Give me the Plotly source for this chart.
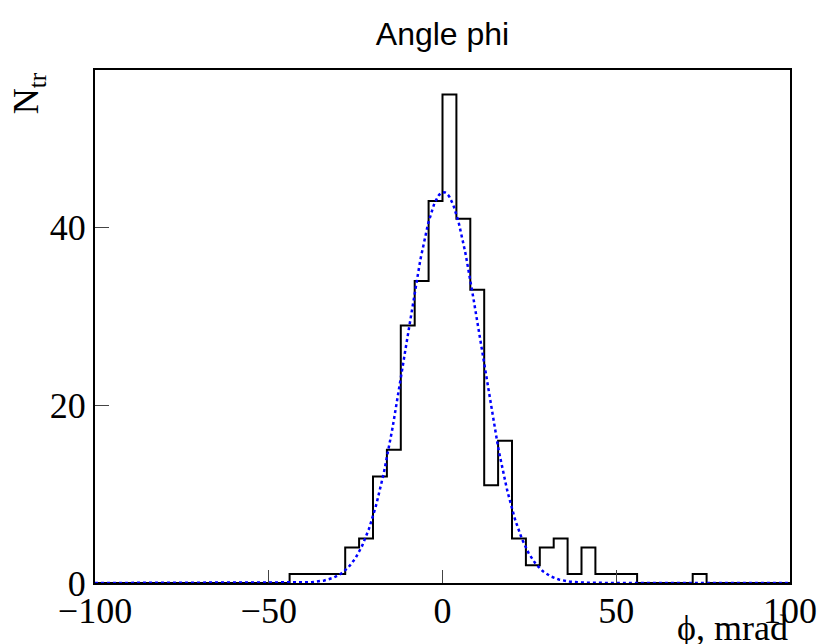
import numpy as np
import plotly.graph_objects as go

# Histogram: 50 bins of 4 mrad from -100 to 100
bin_low = -100.0
bin_width = 4.0
counts = [0, 0, 0, 0, 0, 0, 0, 0, 0, 0,
          0, 0, 0, 0, 1, 1, 1, 1, 4, 5,
          12, 15, 29, 34, 43, 55, 41, 33, 11, 16,
          5, 2, 4, 5, 1, 4, 1, 1, 1, 0,
          0, 0, 0, 1, 0, 0, 0, 0, 0, 0]

# Gaussian fit parameters
fit_amp = 44.0
fit_mean = 0.3
fit_sigma = 10.8

x_ticks = [-100, -50, 0, 50, 100]
y_ticks = [0, 20, 40]

edges = bin_low + bin_width * np.arange(len(counts) + 1)
step_x = list(edges)
step_y = list(counts) + [counts[-1]]

fx = np.linspace(-100, 100, 801)
fy = fit_amp * np.exp(-0.5 * ((fx - fit_mean) / fit_sigma) ** 2)

fig = go.Figure()
fig.add_trace(go.Scatter(x=step_x, y=step_y, mode="lines",
                         line=dict(shape="hv", color="black", width=2),
                         hoverinfo="skip", showlegend=False))
fig.add_trace(go.Scatter(x=fx, y=fy, mode="lines",
                         line=dict(color="#0000ff", width=2.5, dash="3px,3px"),
                         hoverinfo="skip", showlegend=False))

serif = "Liberation Serif, Times New Roman, serif"
fig.update_layout(
    width=821, height=644,
    margin=dict(l=95, r=31, t=70, b=61),
    paper_bgcolor="white", plot_bgcolor="white",
    title=dict(text="Angle phi", x=(95 + 695 / 2) / 821, xanchor="center",
               y=1 - 34 / 644, yanchor="middle",
               font=dict(family="Liberation Sans, Arial, sans-serif", size=32, color="black")),
    xaxis=dict(range=[-100, 100], tickvals=x_ticks, ticktext=["\u2212100", "\u221250", "0", "50", "100"],
               ticks="inside", ticklen=13, tickwidth=1, tickcolor="#444",
               showline=True, linecolor="black", linewidth=2, mirror=True,
               showgrid=False, zeroline=False, automargin=False, ticklabelstandoff=-5,
               tickfont=dict(family=serif, size=36, color="black")),
    yaxis=dict(range=[0, 57.75], tickvals=y_ticks,
               ticks="inside", ticklen=14, tickwidth=1, tickcolor="#444",
               showline=True, linecolor="black", linewidth=2, mirror=True,
               showgrid=False, zeroline=False, automargin=False,
               tickfont=dict(family=serif, size=36, color="black")),
    annotations=[
        dict(text="N<sub>tr</sub>", textangle=-90, xref="paper", yref="paper",
             x=-0.096, xanchor="center", y=1.0, yanchor="top", showarrow=False,
             font=dict(family=serif, size=36, color="black")),
        dict(text="\u03d5, mrad", xref="paper", yref="paper",
             x=1.0, xanchor="right", y=-0.087, yanchor="middle", showarrow=False,
             font=dict(family=serif, size=36, color="black")),
    ],
)

fig.write_html("out.html")
